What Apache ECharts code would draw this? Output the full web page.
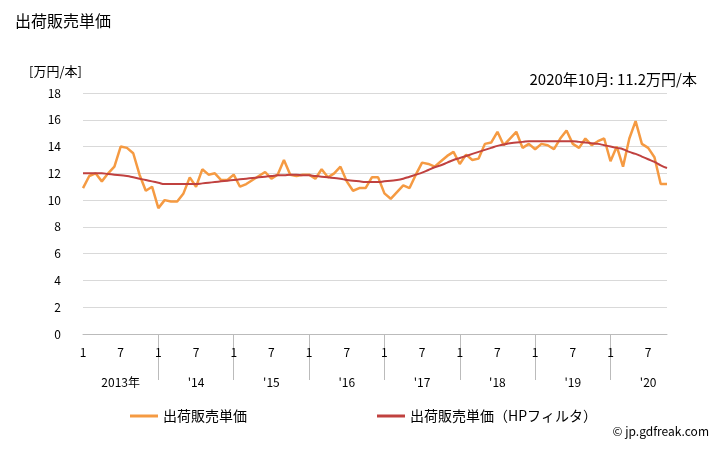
<!DOCTYPE html>
<html>
<head>
<meta charset="utf-8" />
<title>出荷販売単価</title>
<script src="https://cdn.jsdelivr.net/npm/echarts@6/dist/echarts.min.js"></script>
<style>
html, body { margin: 0; padding: 0; background: #fff; }
#chart { width: 728px; height: 450px; }
</style>
</head>
<body>
<div id="chart"></div>
<script type="text/javascript">
// 2013年1月 - 2020年10月
var months = [];
for (var y = 2013; y <= 2020; y++) {
	for (var m = 1; m <= 12; m++) {
		if (y === 2020 && m > 10) break;
		months.push(y + '-' + m);
	}
}
var yearLabels = ['2013年', "'14", "'15", "'16", "'17", "'18", "'19", "'20"];

var price = [
	10.9, 11.8, 12.0, 11.4, 12.0, 12.5, 14.0, 13.9, 13.5, 11.9, 10.7, 11.0,
	9.4, 10.0, 9.9, 9.9, 10.5, 11.7, 11.0, 12.3, 11.9, 12.0, 11.5, 11.5,
	11.9, 11.0, 11.2, 11.5, 11.8, 12.1, 11.6, 11.9, 13.0, 11.9, 11.8, 11.9,
	11.9, 11.6, 12.3, 11.7, 12.0, 12.5, 11.4, 10.7, 10.9, 10.9, 11.7, 11.7,
	10.5, 10.1, 10.6, 11.1, 10.9, 11.9, 12.8, 12.7, 12.5, 12.9, 13.3, 13.6,
	12.7, 13.4, 13.0, 13.1, 14.2, 14.3, 15.1, 14.1, 14.6, 15.1, 13.9, 14.2,
	13.8, 14.2, 14.1, 13.8, 14.6, 15.2, 14.2, 13.9, 14.6, 14.1, 14.4, 14.6,
	12.9, 14.0, 12.5, 14.6, 15.9, 14.2, 13.9, 13.2, 11.2, 11.2
];
var trend = [
	12.0, 12.0, 12.0, 12.0, 11.95, 11.9, 11.85, 11.8, 11.7, 11.6, 11.5, 11.4,
	11.3, 11.2, 11.2, 11.2, 11.2, 11.2, 11.2, 11.25, 11.3, 11.35, 11.4, 11.45,
	11.5, 11.55, 11.6, 11.65, 11.7, 11.75, 11.8, 11.85, 11.85, 11.9, 11.9, 11.85,
	11.85, 11.8, 11.75, 11.7, 11.65, 11.6, 11.5, 11.45, 11.4, 11.35, 11.35, 11.35,
	11.4, 11.45, 11.5, 11.6, 11.75, 11.9, 12.05, 12.25, 12.45, 12.6, 12.8, 13.0,
	13.15, 13.3, 13.45, 13.6, 13.75, 13.9, 14.05, 14.15, 14.25, 14.3, 14.35, 14.4,
	14.4, 14.4, 14.4, 14.4, 14.4, 14.4, 14.4, 14.35, 14.3, 14.25, 14.2, 14.1,
	14.0, 13.9, 13.8, 13.6, 13.45, 13.25, 13.05, 12.85, 12.6, 12.4
];

var chart = echarts.init(document.getElementById('chart'));
chart.setOption({
	animation : false,
	textStyle : { fontFamily : 'Noto Sans CJK JP' },
	title : [ {
		text : '出荷販売単価',
		left : 10, top : 8,
		textStyle : { fontSize : 16, fontWeight : 'normal', color : '#000' }
	}, {
		text : '[万円/本]',
		left : 24, top : 60,
		textStyle : { fontSize : 13, fontWeight : 'normal', color : '#000' }
	}, {
		text : '2020年10月: 11.2万円/本',
		right : 26, top : 67,
		textStyle : { fontSize : 15, fontWeight : 'normal', color : '#000' }
	}, {
		text : '© jp.gdfreak.com',
		right : 14, bottom : 8,
		textStyle : { fontSize : 12, fontWeight : 'normal', color : '#000' }
	} ],
	legend : {
		bottom : 22, left : 125, itemGap : 130,
		itemWidth : 28, itemHeight : 3,
		icon : 'rect',
		textStyle : { fontSize : 14, color : '#000' },
		data : [ '出荷販売単価', '出荷販売単価（HPフィルタ）' ]
	},
	grid : { left : 83, right : 61, top : 93, bottom : 116 },
	xAxis : [ {
		type : 'category',
		data : months,
		boundaryGap : false,
		axisLine : { lineStyle : { color : '#bbb' } },
		axisTick : { show : false },
		axisLabel : {
			interval : 0, color : '#000', fontSize : 12, margin : 12,
			formatter : function(v) {
				var m = v.split('-')[1];
				return (m === '1' || m === '7') ? m : '';
			}
		}
	}, {
		type : 'category',
		data : months,
		boundaryGap : false,
		position : 'bottom',
		axisLine : { show : false },
		axisTick : {
			show : true, length : 46, inside : false,
			interval : function(i) { return i % 12 === 0 && i > 0; },
			lineStyle : { color : '#bbb' }
		},
		axisLabel : {
			interval : 0, color : '#000', fontSize : 12, margin : 42,
			formatter : function(v) {
				var p = v.split('-');
				return p[1] === '7' ? yearLabels[+p[0] - 2013] : '';
			}
		}
	} ],
	yAxis : {
		type : 'value', min : 0, max : 18, interval : 2,
		axisLine : { show : false },
		axisTick : { show : false },
		axisLabel : { color : '#000', fontSize : 12, margin : 22 },
		splitLine : { lineStyle : { color : '#d9d9d9' } }
	},
	series : [ {
		name : '出荷販売単価',
		type : 'line',
		data : price,
		showSymbol : false,
		itemStyle : { color : '#f59a42' },
		lineStyle : { width : 2.5, color : '#f59a42' }
	}, {
		name : '出荷販売単価（HPフィルタ）',
		type : 'line',
		data : trend,
		showSymbol : false,
		smooth : true,
		itemStyle : { color : '#c0413f' },
		lineStyle : { width : 2, color : '#c0413f' }
	} ]
});
</script>
</body>
</html>
